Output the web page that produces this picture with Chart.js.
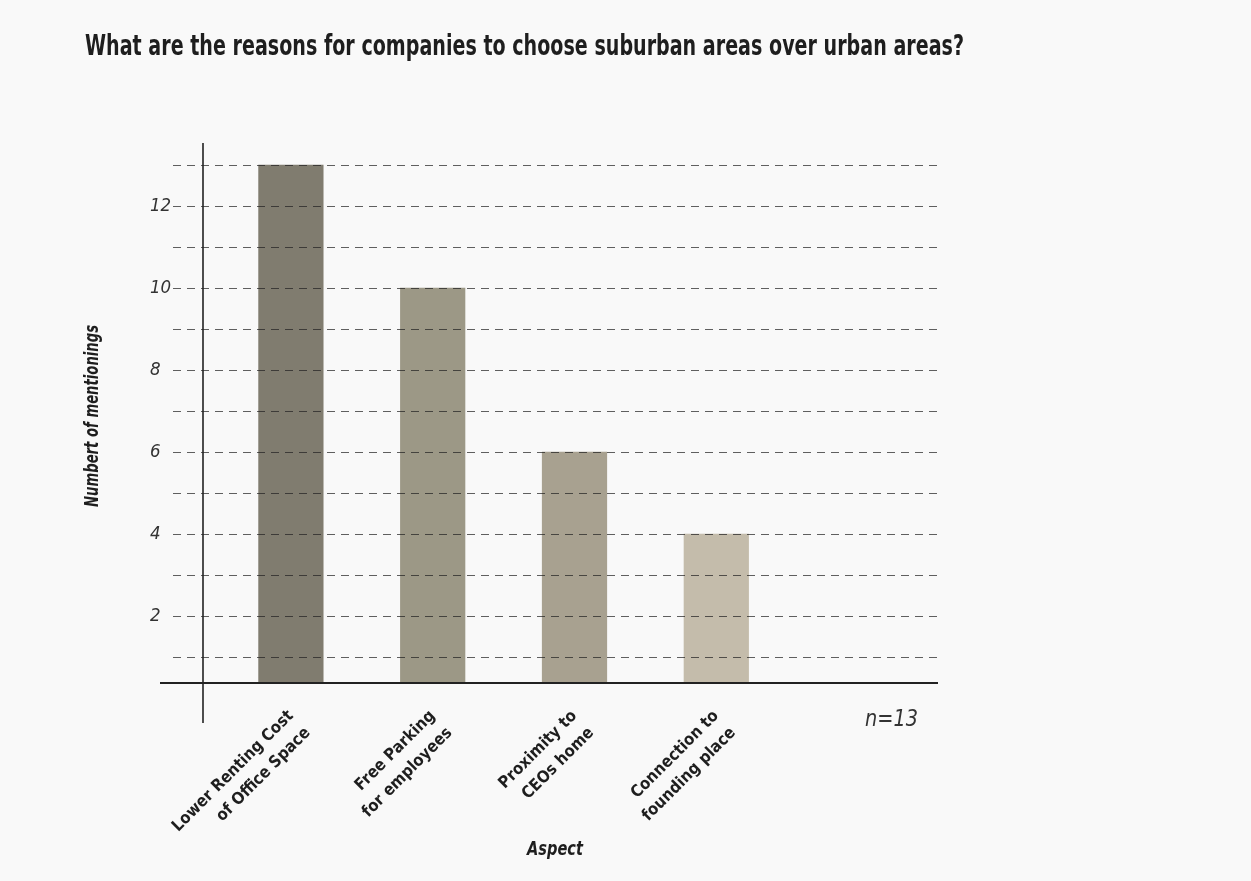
<!DOCTYPE html>
<html>
<head>
<meta charset="utf-8">
<title>Suburban areas</title>
<script src="https://cdn.jsdelivr.net/npm/chart.js"></script>
<style>
    html, body { margin: 0; padding: 0; background: #f9f9f9; }
    #wrap { width: 1251px; height: 881px; }
</style>
</head>
<body>
<div id="wrap"><canvas id="reasonChart" width="1251" height="881"></canvas></div>
<script>
// 数据：类别、数量、刻度
const aspects = [
    ['Lower Renting Cost', 'of Office Space'],
    ['Free Parking', 'for employees'],
    ['Proximity to', 'CEOs home'],
    ['Connection to', 'founding place'],
    ''
];
const mentions = [13, 10, 6, 4, null];
const barColors = ['#807c6f', '#9c9886', '#a8a190', '#c4bcab', 'rgba(0,0,0,0)'];
const yTickValues = [2, 4, 6, 8, 10, 12];
const gridValues = [1, 2, 3, 4, 5, 6, 7, 8, 9, 10, 11, 12, 13];
const sampleSize = 13;

const NARROW = '"DejaVu Sans Condensed", "DejaVu Sans", sans-serif';

/**
 * 窄体文字：用 fillText 的 maxWidth 把文字压窄
 */
function drawNarrowText(ctx, text, x, y, font, color, width, align) {
    ctx.font = font;
    ctx.fillStyle = color;
    ctx.textAlign = align || 'center';
    ctx.textBaseline = 'middle';
    ctx.fillText(text, x, y, width);
}

/**
 * 虚线网格、坐标轴线、轴标题和样本数
 */
const framePlugin = {
    id: 'frame',
    afterDatasetsDraw(chart) {
        const { ctx, chartArea: area, scales } = chart;
        const y = scales.y;
        ctx.save();

        // 虚线网格（画在柱子上面）
        ctx.setLineDash([8, 6]);
        ctx.lineWidth = 1.2;
        ctx.strokeStyle = 'rgba(35, 35, 35, 0.72)';
        gridValues.forEach(v => {
            const py = Math.round(y.getPixelForValue(v)) + 0.5;
            ctx.beginPath();
            ctx.moveTo(area.left - 47, py);
            ctx.lineTo(area.right + 9, py);
            ctx.stroke();
        });
        ctx.setLineDash([]);

        // 纵轴线
        ctx.strokeStyle = '#222';
        ctx.lineWidth = 1.6;
        ctx.beginPath();
        ctx.moveTo(area.left - 17, area.top);
        ctx.lineTo(area.left - 17, area.bottom + 40);
        ctx.stroke();

        // 横轴线
        ctx.lineWidth = 2;
        ctx.beginPath();
        ctx.moveTo(area.left - 60, area.bottom);
        ctx.lineTo(area.right + 9, area.bottom);
        ctx.stroke();

        // X轴标题
        drawNarrowText(ctx, 'Aspect', area.left + 335, area.bottom + 167,
            'italic bold 20px ' + NARROW, '#1e1e1e', 56);

        // Y轴标题（竖排）
        ctx.save();
        ctx.translate(93, (area.top + area.bottom) / 2 + 3);
        ctx.rotate(-Math.PI / 2);
        drawNarrowText(ctx, 'Numbert of mentionings', 0, 0,
            'italic bold 19px ' + NARROW, '#1e1e1e', 182);
        ctx.restore();

        // 样本数
        drawNarrowText(ctx, 'n=' + sampleSize, area.right - 11, area.bottom + 37,
            'italic 23px ' + NARROW, '#333', 53, 'right');

        ctx.restore();
    }
};

const ctx = document.getElementById('reasonChart').getContext('2d');
window.reasonChart = new Chart(ctx, {
    type: 'bar',
    data: {
        labels: aspects,
        datasets: [{
            data: mentions,
            backgroundColor: barColors,
            borderWidth: 0,
            barPercentage: 0.46,
            categoryPercentage: 1,
            clip: 0
        }]
    },
    options: {
        responsive: false,
        animation: false,
        layout: { padding: { left: 85, right: 287, top: 0, bottom: 0 } },
        scales: {
            x: {
                type: 'category',
                grid: { display: false },
                border: { display: false },
                ticks: {
                    autoSkip: false,
                    maxRotation: 45,
                    minRotation: 45,
                    padding: 14,
                    color: '#1e1e1e',
                    font: { family: NARROW, size: 16.5, weight: 'bold', lineHeight: 1.45 }
                },
                afterFit(scale) { scale.height = 198; }
            },
            y: {
                type: 'linear',
                min: 0.36,
                max: 13.53,
                weight: 0,
                grid: { display: false, drawTicks: false },
                border: { display: false },
                afterBuildTicks(scale) {
                    scale.ticks = yTickValues.map(v => ({ value: v }));
                },
                ticks: {
                    crossAlign: 'far',
                    color: '#333',
                    font: { family: NARROW, size: 18.5, style: 'italic' }
                },
                afterFit(scale) { scale.width = 70; }
            },
            // 左侧留白，给纵轴标题
            leftGap: {
                type: 'linear',
                position: 'left',
                weight: 5,
                display: true,
                grid: { display: false },
                border: { display: false },
                ticks: { display: false },
                afterFit(scale) { scale.width = 65; }
            },
            yRight: {
                type: 'linear',
                position: 'right',
                display: true,
                grid: { display: false },
                border: { display: false },
                ticks: { display: false },
                afterFit(scale) { scale.width = 35; }
            }
        },
        plugins: {
            legend: { display: false },
            tooltip: { enabled: false },
            title: {
                display: true,
                align: 'start',
                text: 'What are the reasons for companies to choose suburban areas over urban areas?',
                color: '#1e1e1e',
                padding: { top: 34, bottom: 82 },
                font: { family: NARROW, size: 28, weight: 'bold', lineHeight: '27px' }
            }
        }
    },
    plugins: [framePlugin]
});
</script>
</body>
</html>
